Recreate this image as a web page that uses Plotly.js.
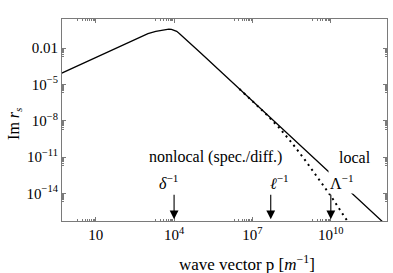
<!DOCTYPE html>
<html>
<head>
<meta charset="utf-8">
<script src="https://cdn.plot.ly/plotly-3.0.1.min.js"></script>
<style>html,body{margin:0;padding:0;background:#fff;}#chart{width:393px;height:273px;}</style>
</head>
<body>
<div id="chart"></div>
<script>
// values (log10 exponents)
var pExpLocal    = [-0.3, 1, 2, 2.5, 2.82, 3.0, 3.3, 3.5, 3.7, 3.8, 3.9, 4.0, 4.1, 4.2, 4.3, 4.5, 4.7, 5.0, 6, 8, 10, 12.2];
var imExpLocal   = [-4.07, -2.77, -1.77, -1.27, -0.95, -0.80, -0.63, -0.53, -0.46, -0.44, -0.46, -0.52, -0.62, -0.79, -0.98, -1.39, -1.78, -2.37, -4.37, -8.37, -12.37, -16.77];
var pExpNonlocal = [6.5, 7.0, 7.5, 8.0, 8.5, 9.0, 9.5, 10.0, 10.5, 11.0];
var imExpNonlocal= [-5.37, -6.37, -7.4, -8.52, -9.8, -11.2, -12.7, -14.2, -15.85, -17.4];

var xTickVals = [10, 1e4, 1e7, 1e10];
var xTickText = ['10', '10<sup>4</sup>', '10<sup>7</sup>', '10<sup>10</sup>'];
var yTickVals = [1e-2, 1e-5, 1e-8, 1e-11, 1e-14];
var yTickText = ['0.01', '10<sup>\u22125</sup>', '10<sup>\u22128</sup>', '10<sup>\u221211</sup>', '10<sup>\u221214</sup>'];

// scale markers: [label, log10 position]
var markerLabels = ['<i>\u03b4</i><sup>\u22121</sup>', '<i>\u2113</i><sup>\u22121</sup>', '\u039b<sup>\u22121</sup>'];
var markerExp    = [4.0, 7.7, 10.0];
var labelExp     = [3.77, 8.02, 10.43];

function pw(a){ return a.map(function(v){ return Math.pow(10, v); }); }
function minorFor(majors){
  var out = [];
  majors.forEach(function(m){ for (var k = 2; k <= 9; k++) out.push(m / 10 * k); });
  return out;
}

var font = 'Liberation Serif, Times New Roman, serif';
var frame = '#7a7a7a';

var traces = [
  {x: pw(pExpNonlocal), y: pw(imExpNonlocal), mode: 'lines', line: {color: '#000', width: 2, dash: '2px,4px'}, hoverinfo: 'skip'},
  {x: pw(pExpLocal), y: pw(imExpLocal), mode: 'lines', line: {color: '#000', width: 1.3}, hoverinfo: 'skip'}
];

var annotations = [];
markerExp.forEach(function(e){
  annotations.push({x: e, y: -16.12, xref: 'x', yref: 'y', text: '', showarrow: true,
    arrowhead: 2, arrowsize: 1.6, arrowwidth: 1.1, arrowcolor: '#000', ax: 0, ay: -26});
});
markerLabels.forEach(function(t, i){
  annotations.push({x: labelExp[i], y: -13.05, xref: 'x', yref: 'y', text: t, showarrow: false,
    font: {family: font, size: 16, color: '#000'}, bgcolor: i === 2 ? '#fff' : 'rgba(0,0,0,0)', borderpad: 1});
});
annotations.push({x: 5.57, y: -11.0, xref: 'x', yref: 'y', text: 'nonlocal (spec./diff.)', showarrow: false,
  font: {family: font, size: 16, color: '#000'}});
annotations.push({x: 10.93, y: -11.0, xref: 'x', yref: 'y', text: 'local', showarrow: false,
  font: {family: font, size: 16, color: '#000'}});
annotations.push({x: 0.57, y: -0.208, xref: 'paper', yref: 'paper', text: 'wave vector p [<i>m</i><sup>\u22121</sup>]',
  showarrow: false, xanchor: 'center', yanchor: 'middle', font: {family: font, size: 17, color: '#000'}});
annotations.push({x: -0.148, y: 0.485, xref: 'paper', yref: 'paper', text: 'Im <i>r</i><sub><i>s</i></sub>', textangle: -90,
  showarrow: false, xanchor: 'center', yanchor: 'middle', font: {family: font, size: 16, color: '#000'}});

var layout = {
  width: 393, height: 273,
  margin: {l: 62, r: 6, t: 19, b: 52},
  paper_bgcolor: '#fff', plot_bgcolor: '#fff',
  showlegend: false,
  font: {family: font, size: 15, color: '#000'},
  xaxis: {type: 'log', range: [-0.29, 12.15], tickmode: 'array', tickvals: xTickVals, ticktext: xTickText,
    ticks: 'inside', ticklen: 4, tickcolor: frame, showline: true, linecolor: frame, linewidth: 1, mirror: 'allticks',
    showgrid: false, zeroline: false, tickfont: {family: font, size: 15},
    minor: {tickmode: 'array', tickvals: minorFor(xTickVals), ticks: 'inside', ticklen: 2, tickcolor: frame, showgrid: false}},
  yaxis: {type: 'log', range: [-16.27, 0.40], tickmode: 'array', tickvals: yTickVals, ticktext: yTickText,
    ticks: 'inside', ticklen: 4, tickcolor: frame, showline: true, linecolor: frame, linewidth: 1, mirror: 'allticks',
    showgrid: false, zeroline: false, tickfont: {family: font, size: 15},
    minor: {tickmode: 'array', tickvals: minorFor(yTickVals), ticks: 'inside', ticklen: 2, tickcolor: frame, showgrid: false}},
  annotations: annotations
};

Plotly.newPlot('chart', traces, layout, {staticPlot: true, displayModeBar: false});
</script>
</body>
</html>
